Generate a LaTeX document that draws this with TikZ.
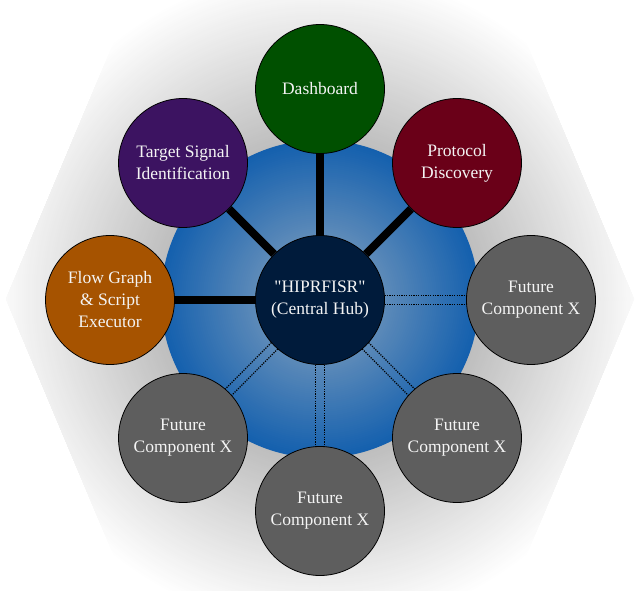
\documentclass[tikz,border=0pt]{standalone}
\usepackage{fontspec}
\setmainfont{Liberation Serif}[Ligatures=TeXOff]
\usetikzlibrary{calc}
\definecolor{bgA}{HTML}{BEBEBE}
\definecolor{blIn}{HTML}{90A8C0}
\definecolor{blOut}{HTML}{1460AE}
\definecolor{dashgreen}{HTML}{005000}
\definecolor{protred}{HTML}{6A0018}
\definecolor{futgray}{HTML}{5E5E5E}
\definecolor{floworange}{HTML}{A65300}
\definecolor{tgtpurple}{HTML}{3C1361}
\definecolor{hubblue}{HTML}{001B3B}
\definecolor{labelwhite}{HTML}{F4F4F4}
\begin{document}
\begin{tikzpicture}[x=1pt,y=-1pt,
  sat/.style={circle,draw=black,line width=0.8pt,minimum size=129pt,inner sep=0pt,
    text=labelwhite,align=center,font=\fontsize{17.5}{22}\selectfont},
  future/.style={sat,fill=futgray},
  strong/.style={line width=8pt,black},
  dots/.style={line width=1.2pt,dash pattern=on 1.2pt off 1.2pt,color=black}]
\useasboundingbox (0,0) rectangle (640,591);
\begin{scope}
  \clip (6,299) -- (153,-51) -- (487,-51) -- (634,299) -- (487,649) -- (153,649) -- cycle;
  \foreach \r in {330,328,...,160}{
    \pgfmathsetmacro\p{(\r-160)/1.7}
    \fill[white!\p!bgA] (320,299) circle [radius=\r];
  }
\end{scope}
\foreach \r in {159,157,...,1}{
  \pgfmathsetmacro\q{\r/1.59}
  \fill[blOut!\q!blIn] (320,299) circle [radius=\r];
}

\node[sat,fill=hubblue] (hub) at (320,300) {"HIPRFISR"\\(Central Hub)};
\node[sat,fill=dashgreen] (dash) at (320,89) {Dashboard};
\node[sat,fill=protred] (prot) at (457,163) {Protocol\\Discovery};
\node[future] (f1) at (531,300) {Future\\Component X};
\node[future] (f2) at (457,438) {Future\\Component X};
\node[future] (f3) at (320,511) {Future\\Component X};
\node[future] (f4) at (183,438) {Future\\Component X};
\node[sat,fill=floworange] (flow) at (110,300) {Flow Graph\\\& Script\\Executor};
\node[sat,fill=tgtpurple] (tgt) at (183,163) {Target Signal\\Identification};

\draw[strong] (hub) -- (dash);
\draw[strong] (hub) -- (prot);
\draw[strong] (hub) -- (flow);
\draw[strong] (hub) -- (tgt);

\foreach \f in {f1,f2,f3,f4}{
  \draw[dots] ($(hub)!64.5pt!(\f)!4.5pt!90:(\f)$) -- ($(\f)!64.5pt!(hub)!4.5pt!-90:(hub)$);
  \draw[dots] ($(hub)!64.5pt!(\f)!4.5pt!-90:(\f)$) -- ($(\f)!64.5pt!(hub)!4.5pt!90:(hub)$);
}
\end{tikzpicture}
\end{document}
